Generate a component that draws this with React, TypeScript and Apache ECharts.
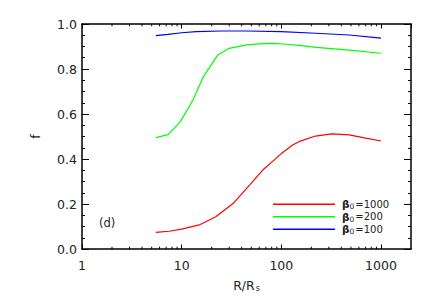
import React, { useEffect, useRef } from 'react';
import * as echarts from 'echarts';

// ---- data ----
const seriesNames = ['β0=1000', 'β0=200', 'β0=100'];
const seriesBeta = ['1000', '200', '100'];
const seriesColors = ['#ff0000', '#00ff00', '#0000ff'];

const redR = [5.5, 7.5, 10, 15, 22, 33, 48, 65, 85, 100, 130, 150, 220, 320, 480, 700, 1000];
const redF = [0.074, 0.079, 0.088, 0.107, 0.143, 0.203, 0.284, 0.351, 0.396, 0.424, 0.462, 0.477, 0.502, 0.512, 0.507, 0.493, 0.48];

const greenR = [5.5, 7.3, 9.7, 13, 16.5, 23, 30, 45, 60, 80, 105, 150, 225, 480, 1000];
const greenF = [0.495, 0.508, 0.566, 0.662, 0.766, 0.862, 0.892, 0.907, 0.912, 0.914, 0.911, 0.905, 0.896, 0.884, 0.87];

const blueR = [5.5, 7.3, 10, 14, 25, 45, 100, 220, 480, 1000];
const blueF = [0.948, 0.954, 0.961, 0.966, 0.969, 0.969, 0.966, 0.959, 0.951, 0.937];

const xMin = 1;
const xMax = 2000;
const xMajorTicks = [1, 10, 100, 1000];
const xMinorTicks = [2, 3, 4, 5, 6, 7, 8, 9, 20, 30, 40, 50, 60, 70, 80, 90, 200, 300, 400, 500, 600, 700, 800, 900];
const yMin = 0;
const yMax = 1;
const yInterval = 0.2;
const panelLabel = '(d)';

const FONT = 'DejaVu Sans';
const TEXT = '#222';
const FRAME = '#000';

function pairs(xs: number[], ys: number[]) {
  return xs.map((x, i) => [x, ys[i]]);
}

export default function App() {
  const ref = useRef<HTMLDivElement>(null);

  useEffect(() => {
    if (!ref.current) return;
    const chart = echarts.init(ref.current, undefined, { renderer: 'svg' });

    const lineData = [pairs(redR, redF), pairs(greenR, greenF), pairs(blueR, blueF)];

    const axisLineStyle = { show: true, onZero: false, lineStyle: { color: FRAME, width: 1.5 } };

    const xLabelFormatter = (v: number) => {
      const hit = xMajorTicks.find((t) => Math.abs(t - v) / t < 1e-6);
      return hit !== undefined ? String(hit) : '';
    };

    const option: any = {
      animation: false,
      backgroundColor: '#fff',
      textStyle: { fontFamily: FONT },
      grid: { left: 82, right: 25, top: 24, bottom: 51, containLabel: false },
      legend: {
        show: true,
        data: seriesNames,
        orient: 'vertical',
        left: 273,
        top: 198,
        padding: 0,
        itemWidth: 62,
        itemHeight: 1.3,
        itemGap: 0,
        icon: 'rect',
        selectedMode: false,
        formatter: (name: string) => {
          const i = seriesNames.indexOf(name);
          return '{b|β}{s|0}{t|=' + seriesBeta[i] + '}';
        },
        textStyle: {
          fontFamily: FONT,
          color: TEXT,
          fontSize: 10,
          lineHeight: 12.5,
          padding: [0, 0, 0, 2],
          rich: {
            b: { fontFamily: FONT, fontSize: 10.5, fontWeight: 'bold', color: TEXT, lineHeight: 12.5 },
            s: { fontFamily: FONT, fontSize: 7.5, color: TEXT, lineHeight: 12.5, verticalAlign: 'bottom', padding: [3, 1, 0, 0] },
            t: { fontFamily: FONT, fontSize: 10, color: TEXT, lineHeight: 12.5 },
          },
        },
      },
      xAxis: [
        {
          type: 'log',
          logBase: 10,
          min: xMin,
          max: xMax,
          position: 'bottom',
          name: '{r|R/R}{s|s}',
          nameLocation: 'middle',
          nameGap: 30,
          nameTextStyle: {
            rich: {
              r: { fontFamily: FONT, fontSize: 12.5, color: TEXT },
              s: { fontFamily: FONT, fontSize: 8, color: TEXT, verticalAlign: 'bottom', padding: [5, 0, 0, 1] },
            },
          },
          axisLine: axisLineStyle,
          axisTick: { show: true, inside: true, length: 4.5, lineStyle: { color: FRAME, width: 1 } },
          axisLabel: {
            show: true,
            margin: 9.5,
            fontFamily: FONT,
            fontSize: 12.5,
            color: TEXT,
            formatter: xLabelFormatter,
            showMinLabel: true,
            showMaxLabel: false,
          },
          splitLine: { show: false },
        },
        {
          type: 'log',
          logBase: 10,
          min: xMin,
          max: xMax,
          position: 'top',
          axisLine: axisLineStyle,
          axisTick: { show: true, inside: true, length: 4.5, lineStyle: { color: FRAME, width: 1 } },
          axisLabel: { show: false },
          splitLine: { show: false },
        },
      ],
      yAxis: [
        {
          type: 'value',
          min: yMin,
          max: yMax,
          interval: yInterval,
          position: 'left',
          name: 'f',
          nameLocation: 'middle',
          nameRotate: 90,
          nameGap: 40,
          nameTextStyle: { fontFamily: FONT, fontSize: 12.5, color: TEXT },
          axisLine: axisLineStyle,
          axisTick: { show: true, inside: true, length: 7, lineStyle: { color: FRAME, width: 1 } },
          minorTick: { show: true, splitNumber: 4, length: 3, lineStyle: { color: FRAME, width: 1 } },
          axisLabel: {
            show: true,
            margin: 5,
            fontFamily: FONT,
            fontSize: 12.5,
            color: TEXT,
            formatter: (v: number) => v.toFixed(1),
          },
          splitLine: { show: false },
          minorSplitLine: { show: false },
        },
        {
          type: 'value',
          min: yMin,
          max: yMax,
          interval: yInterval,
          position: 'right',
          axisLine: axisLineStyle,
          axisTick: { show: true, inside: true, length: 7, lineStyle: { color: FRAME, width: 1 } },
          minorTick: { show: true, splitNumber: 4, length: 3, lineStyle: { color: FRAME, width: 1 } },
          axisLabel: { show: false },
          splitLine: { show: false },
          minorSplitLine: { show: false },
        },
      ],
      graphic: [
        {
          type: 'text',
          left: 99,
          top: 217,
          style: { text: panelLabel, fontFamily: FONT, fontSize: 11.5, fill: TEXT },
          silent: true,
        },
      ],
      series: [
        ...seriesNames.map((name, i) => ({
          name,
          type: 'line',
          xAxisIndex: 0,
          yAxisIndex: 0,
          data: lineData[i],
          showSymbol: false,
          symbol: 'none',
          smooth: false,
          color: seriesColors[i],
          lineStyle: { color: seriesColors[i], width: 1.2 },
          itemStyle: { color: seriesColors[i] },
          z: 3,
        })),
        {
          name: 'minorTicks',
          type: 'custom',
          xAxisIndex: 0,
          yAxisIndex: 0,
          silent: true,
          clip: false,
          data: xMinorTicks.map((v) => [v, yMin]),
          renderItem: (_params: any, api: any) => {
            const x = api.value(0);
            const pb = api.coord([x, yMin]);
            const pt = api.coord([x, yMax]);
            return {
              type: 'group',
              children: [
                { type: 'line', shape: { x1: pb[0], y1: pb[1], x2: pb[0], y2: pb[1] - 2.3 }, style: { stroke: FRAME, lineWidth: 1 } },
                { type: 'line', shape: { x1: pt[0], y1: pt[1], x2: pt[0], y2: pt[1] + 2.3 }, style: { stroke: FRAME, lineWidth: 1 } },
              ],
            };
          },
          z: 4,
        },
      ],
    };

    chart.setOption(option);
    return () => {
      chart.dispose();
    };
  }, []);

  return (
    <div
      ref={ref}
      style={{ position: 'fixed', left: 0, top: 0, width: 436, height: 300, background: '#fff' }}
    />
  );
}
